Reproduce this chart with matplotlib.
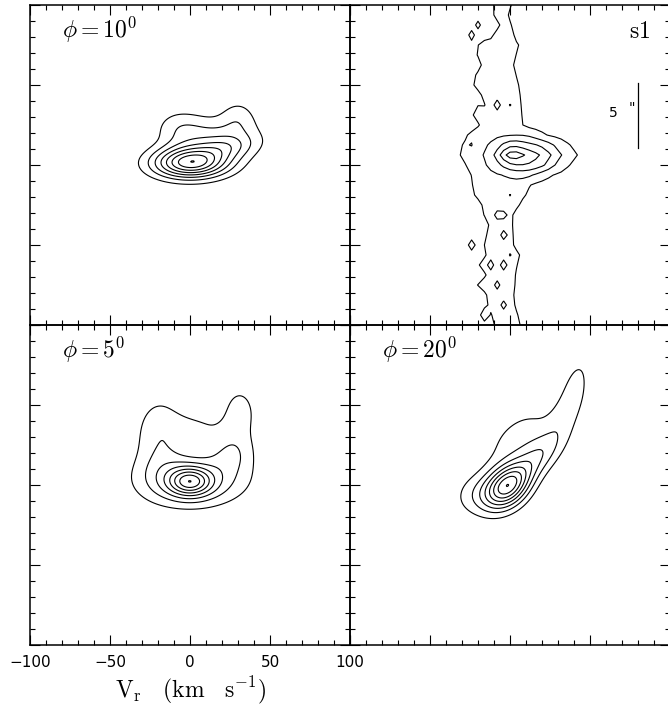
import numpy as np
import matplotlib
matplotlib.use("Agg")
import matplotlib.pyplot as plt
from matplotlib.ticker import MultipleLocator

plt.rcParams['mathtext.fontset'] = 'cm'

# model panels: gaussian components (centre v, centre y, sigma along, sigma across, angle deg, amplitude)
P5_V = [0, 1, -19, 26, 31, 4]
P5_Y = [2, 3, 30, 20, 45, 36]
P5_SA = [9, 22, 11, 10, 9, 12]
P5_SB = [6, 11, 18, 9, 14, 7]
P5_ANG = [0, 0, 0, 0, 0, 0]
P5_AMP = [0.55, 0.45, 0.22, 0.19, 0.17, 0.12]

P10_V = [0, 14, 24, -8, 30, 3]
P10_Y = [1, 11, 11, 22, 30, 24]
P10_SA = [16, 20, 12, 10, 8, 14]
P10_SB = [6.5, 9, 5, 9, 8, 7]
P10_ANG = [0, 12, 8, 0, 0, 0]
P10_AMP = [1.0, 0.4, 0.2, 0.15, 0.2, 0.15]

P20_V = [-2, 16, 36, 41, 5, -20]
P20_Y = [-1, 16, 47, 64, 30, -6]
P20_SA = [11, 16, 14, 11, 18, 11]
P20_SB = [8, 7, 6.5, 4.5, 10, 9]
P20_ANG = [45, 45, 65, 75, 40, 20]
P20_AMP = [1.0, 0.4, 0.18, 0.16, 0.2, 0.22]

# contour levels as fraction of peak
LEVELS = [0.125, 0.25, 0.375, 0.5, 0.625, 0.75, 0.875, 0.998]

# s1 observed: strip rows (y), left and right edge of outer contour (km/s)
S1_ROW_Y = [100, 93.75, 87.5, 81.25, 75, 68.75, 62.5, 56.25, 50, 43.75, 37.5,
            31.25, 25, 18.75, 12.5, 6.25, 0, -6.25, -12.5, -18.75, -25, -31.25,
            -37.5, -43.75, -50, -56.25, -62.5, -68.75, -75, -81.25, -87.5,
            -93.75, -100]
S1_LEFT = [-10.0, -9.8, -9.6, -10.4, -19.8, -20.4, -17.7, -21.2, -22.5, -17.7,
           -19.8, -22.9, -18.8, -25.4, -27.1, -27.5, -24.0, -22.5, -22.9, -21.9,
           -17.3, -16.2, -12.9, -14.6, -16.0, -15.0, -19.2, -15.0, -20.2, -14.6,
           -13.5, -11.5, -9.4]
S1_RIGHT = [0.4, -0.6, 0.4, 2.5, 5.2, 3.8, 2.1, 3.8, 5.2, 6.2, 6.9, 7.3, 7.3,
            17.0, 31.0, 36.0, 28.0, 17.0, 10.8, 9.4, 5.6, 1.5, 1.2, 1.7, 2.1,
            5.8, 4.4, 3.5, 3.1, 2.3, 3.1, 4.6, 6.2]
# knot components
S1_KV = [0, 12, 5]
S1_KY = [7, 5, 5]
S1_KSV = [6, 12, 20]
S1_KSY = [4.5, 6.5, 9]
S1_KAMP = [4.0, 4.5, 1.5]
S1_LEVELS = [1, 3, 5, 7, 9]
# isolated spots (v, y, value)
S1_SPOT_V = [-18.0, -24.0, -22.5, -14.6, -6.7, -7.3, -14.6, 1.0, -22.5, 1.5,
             -7.3, -3.8, -4.2, 1.0, -10.8, -4.2, -7.3, -3.1]
S1_SPOT_Y = [89.6, 80.2, -49.4, -95.8, 88.5, 37.5, 35.4, 40.6, 14.6, -20.2,
             -29.6, -28.5, -41.7, -55.2, -59.4, -63.5, -75.6, -85.8]
S1_SPOT_VAL = [1.6, 1.8, 2.0, 2.5, 0.3, 0.0, 0.9, 0.9, 0.9, 0.9,
               0.3, 0.4, 0.2, 0.9, 0.2, 0.0, 0.3, 0.3]

BAR_V = 80
BAR_Y = [10.4, 51]


def model(vv, yy, cv, cy, sa, sb, ang, amp):
    f = np.zeros_like(vv)
    for i in range(len(cv)):
        a = np.radians(ang[i])
        dv = vv - cv[i]
        dy = yy - cy[i]
        u = dv * np.cos(a) + dy * np.sin(a)
        w = -dv * np.sin(a) + dy * np.cos(a)
        f += amp[i] * np.exp(-0.5 * ((u / sa[i]) ** 2 + (w / sb[i]) ** 2))
    return f


def setup(ax, labels=False):
    ax.set_xlim(-100, 100)
    ax.set_ylim(-100, 100)
    ax.xaxis.set_major_locator(MultipleLocator(50))
    ax.xaxis.set_minor_locator(MultipleLocator(10))
    ax.yaxis.set_major_locator(MultipleLocator(50))
    ax.yaxis.set_minor_locator(MultipleLocator(10))
    ax.tick_params(which='both', direction='in', top=True, right=True,
                   width=0.8, labelleft=False, labelbottom=labels)
    ax.tick_params(which='major', length=7.2, pad=7, labelsize=11)
    ax.tick_params(which='minor', length=3.6)
    ax.set_facecolor('none')
    for s in ax.spines.values():
        s.set_linewidth(1.1)


fig = plt.figure(figsize=(6.68, 7.11), dpi=100)
W = 320 / 668
H = 320 / 711
x_l, x_r = 30 / 668, 350 / 668
y_t, y_b = (711 - 325) / 711, (711 - 645) / 711

ax10 = fig.add_axes([x_l, y_t, W, H])
ax_s1 = fig.add_axes([x_r, y_t, W, H])
ax5 = fig.add_axes([x_l, y_b, W, H])
ax20 = fig.add_axes([x_r, y_b, W, H])

v = np.linspace(-100, 100, 401)
VV, YY = np.meshgrid(v, v)

panels = [
    (ax10, (P10_V, P10_Y, P10_SA, P10_SB, P10_ANG, P10_AMP), r'$\phi=10^0$'),
    (ax5, (P5_V, P5_Y, P5_SA, P5_SB, P5_ANG, P5_AMP), r'$\phi=5^0$'),
    (ax20, (P20_V, P20_Y, P20_SA, P20_SB, P20_ANG, P20_AMP), r'$\phi=20^0$'),
]
for ax, comps, lab in panels:
    f = model(VV, YY, *comps)
    ax.contour(VV, YY, f, levels=np.array(LEVELS) * f.max(), colors='k',
               linewidths=0.8)
    ax.text(-80, 79.5, lab, fontsize=17, ha='left', va='baseline')
    setup(ax, labels=(ax is ax5))

# s1 observed panel
sv = np.arange(-100, 101, 4.0)
sy = np.array(S1_ROW_Y, dtype=float)
SV, SY = np.meshgrid(sv, sy)
c = (np.array(S1_LEFT) + np.array(S1_RIGHT)) / 2
h = (np.array(S1_RIGHT) - np.array(S1_LEFT)) / 2
g = 2.0 / (1 + ((SV - c[:, None]) / h[:, None]) ** 6)
g += model(SV, SY, S1_KV, S1_KY, S1_KSV, S1_KSY, [0, 0, 0], S1_KAMP)
for i in range(len(S1_SPOT_V)):
    r = np.argmin(np.abs(sy - S1_SPOT_Y[i]))
    k = np.argmin(np.abs(sv - S1_SPOT_V[i]))
    g[r, k] = S1_SPOT_VAL[i]
ax_s1.contour(SV, SY, g, levels=S1_LEVELS, colors='k', linewidths=0.8)
ax_s1.plot([BAR_V, BAR_V], BAR_Y, color='k', lw=0.9)
ax_s1.text(64.6, 32.8, '5', fontsize=10, ha='center', va='center')
ax_s1.text(76, 35.5, '"', fontsize=10, ha='center', va='center')
ax_s1.text(87.5, 79.4, r'$\mathrm{s1}$', fontsize=17, ha='right', va='baseline')
setup(ax_s1)

fig.text(191 / 668, (711 - 690) / 711, r'$\mathrm{V_r\ \ \ (km\ \ \ s^{-1})}$',
         fontsize=17, ha='center', va='center')

fig.savefig('out.png', dpi=100)
